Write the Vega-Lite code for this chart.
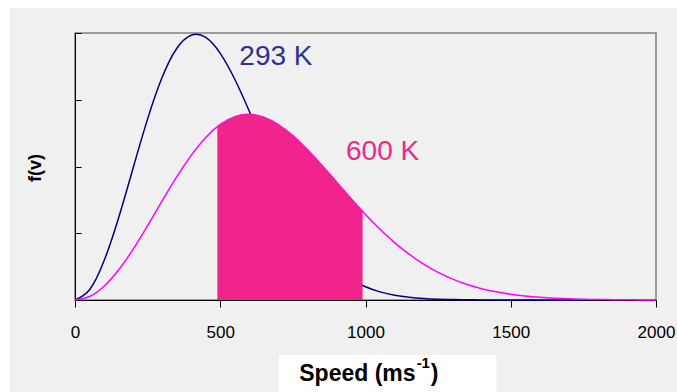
{
  "$schema": "https://vega.github.io/schema/vega-lite/v6.json",
  "width": 581,
  "height": 267,
  "autosize": {"type": "none"},
  "padding": {"left": 75, "top": 33, "right": 21, "bottom": 92},
  "background": "#f0f0f0",
  "config": {
    "view": {"fill": "#f0f0f0", "stroke": "#808080", "strokeWidth": 1.5},
    "font": "Liberation Sans",
    "axis": {"domainColor": "#000000", "domainWidth": 1, "tickColor": "#000000", "tickWidth": 1, "grid": false, "zindex": 1, "labelColor": "#000000", "labelFont": "Liberation Sans"}
  },
  "datasets": {
    "t293": [
      {"v": 0, "f": 0}, {"v": 50, "f": 0.00007662}, {"v": 100, "f": 0.00029356}, {"v": 150, "f": 0.0006148},
      {"v": 200, "f": 0.0009883}, {"v": 250, "f": 0.0013569}, {"v": 300, "f": 0.0016683}, {"v": 350, "f": 0.0018839},
      {"v": 400, "f": 0.0019835}, {"v": 450, "f": 0.0019664}, {"v": 500, "f": 0.0018476}, {"v": 550, "f": 0.0016533},
      {"v": 600, "f": 0.0014139}, {"v": 650, "f": 0.0011586}, {"v": 700, "f": 0.0009117}, {"v": 750, "f": 0.0006899},
      {"v": 800, "f": 0.0005028}, {"v": 850, "f": 0.0003533}, {"v": 900, "f": 0.0002396}, {"v": 950, "f": 0.0001568},
      {"v": 1000, "f": 0.0000992}, {"v": 1050, "f": 0.0000607}, {"v": 1100, "f": 0.0000359}, {"v": 1150, "f": 0.0000206},
      {"v": 1200, "f": 0.0000114}, {"v": 1250, "f": 0.0000061}, {"v": 1300, "f": 0.0000032}, {"v": 1350, "f": 0.0000016},
      {"v": 1400, "f": 0.0000008}, {"v": 1450, "f": 0}, {"v": 1500, "f": 0}, {"v": 1550, "f": 0},
      {"v": 1600, "f": 0}, {"v": 1650, "f": 0}, {"v": 1700, "f": 0}, {"v": 1750, "f": 0}
    ],
    "t600": [
      {"v": 0, "f": 0}, {"v": 50, "f": 0.00002634}, {"v": 100, "f": 0.00010317}, {"v": 150, "f": 0.00022412},
      {"v": 200, "f": 0.00037935}, {"v": 250, "f": 0.0005565}, {"v": 300, "f": 0.0007418}, {"v": 350, "f": 0.0009216},
      {"v": 400, "f": 0.0010835}, {"v": 450, "f": 0.0012172}, {"v": 500, "f": 0.0013151}, {"v": 550, "f": 0.0013732},
      {"v": 600, "f": 0.0013908}, {"v": 650, "f": 0.0013696}, {"v": 700, "f": 0.0013143}, {"v": 750, "f": 0.001231},
      {"v": 800, "f": 0.0011268}, {"v": 850, "f": 0.0010092}, {"v": 900, "f": 0.0008851}, {"v": 950, "f": 0.0007606},
      {"v": 1000, "f": 0.000641}, {"v": 1050, "f": 0.0005301}, {"v": 1100, "f": 0.0004302}, {"v": 1150, "f": 0.0003429},
      {"v": 1200, "f": 0.0002685}, {"v": 1250, "f": 0.0002066}, {"v": 1300, "f": 0.0001562}, {"v": 1350, "f": 0.0001162},
      {"v": 1400, "f": 0.0000849}, {"v": 1450, "f": 0.0000611}, {"v": 1500, "f": 0.0000432}, {"v": 1550, "f": 0.0000301},
      {"v": 1600, "f": 0.0000206}, {"v": 1650, "f": 0.0000139}, {"v": 1700, "f": 0.0000092}, {"v": 1750, "f": 0.000006},
      {"v": 1800, "f": 0.0000039}, {"v": 1850, "f": 0.0000025}, {"v": 1900, "f": 0.0000015}, {"v": 1950, "f": 0.0000009},
      {"v": 2000, "f": 0.0000006}
    ],
    "shade": [
      {"v": 490, "f": 0.0012986}, {"v": 500, "f": 0.0013151}, {"v": 550, "f": 0.0013732}, {"v": 600, "f": 0.0013908},
      {"v": 650, "f": 0.0013696}, {"v": 700, "f": 0.0013143}, {"v": 750, "f": 0.001231}, {"v": 800, "f": 0.0011268},
      {"v": 850, "f": 0.0010092}, {"v": 900, "f": 0.0008851}, {"v": 950, "f": 0.0007606}, {"v": 990, "f": 0.0006644}
    ],
    "one": [{"k": 1}]
  },
  "layer": [
    {
      "data": {"name": "t293"},
      "mark": {"type": "line", "color": "#000080", "strokeWidth": 1.5, "interpolate": "natural"},
      "encoding": {
        "x": {
          "field": "v", "type": "quantitative",
          "scale": {"domain": [0, 2000], "nice": false, "zero": false},
          "axis": {"values": [0, 500, 1000, 1500, 2000], "format": "d", "tickSize": 7, "labelFontSize": 17, "labelPadding": 30, "labelBaseline": "alphabetic", "labelFlush": false, "title": null}
        },
        "y": {
          "field": "f", "type": "quantitative",
          "scale": {"domain": [0, 0.002], "nice": false},
          "axis": {"values": [0, 0.0005, 0.001, 0.0015, 0.002], "labels": false, "tickSize": -6, "title": "f(v)", "titleFont": "Liberation Sans", "titleFontSize": 18, "titleFontWeight": "bold", "titleColor": "#000000", "titleX": -39.5, "titleY": 134.5, "titleAngle": 270, "titleBaseline": "middle", "titleAlign": "center"}
        }
      }
    },
    {
      "data": {"name": "t600"},
      "mark": {"type": "line", "color": "#ff00ff", "strokeWidth": 1.5, "interpolate": "natural"},
      "encoding": {"x": {"field": "v", "type": "quantitative"}, "y": {"field": "f", "type": "quantitative"}}
    },
    {
      "data": {"name": "shade"},
      "mark": {"type": "area", "color": "#f0248a", "opacity": 1, "interpolate": "natural"},
      "encoding": {"x": {"field": "v", "type": "quantitative"}, "y": {"field": "f", "type": "quantitative"}}
    },
    {
      "data": {"name": "one"},
      "mark": {"type": "text", "text": "293 K", "font": "Liberation Sans", "fontSize": 28, "color": "#2e3192", "align": "left", "baseline": "alphabetic"},
      "encoding": {"x": {"datum": 565.6, "type": "quantitative"}, "y": {"datum": 0.00176, "type": "quantitative"}}
    },
    {
      "data": {"name": "one"},
      "mark": {"type": "text", "text": "600 K", "font": "Liberation Sans", "fontSize": 28, "color": "#f0288c", "align": "left", "baseline": "alphabetic"},
      "encoding": {"x": {"datum": 932.9, "type": "quantitative"}, "y": {"datum": 0.0010464, "type": "quantitative"}}
    },
    {
      "data": {"name": "one"},
      "mark": {"type": "rect", "color": "#ffffff"},
      "encoding": {"x": {"datum": 702, "type": "quantitative"}, "x2": {"datum": 1451}, "y": {"datum": -0.000412, "type": "quantitative"}, "y2": {"datum": -0.00076}}
    },
    {
      "data": {"name": "one"},
      "mark": {"type": "rect", "color": "#ffffff"},
      "encoding": {"x": {"datum": -300, "type": "quantitative"}, "x2": {"datum": 2200}, "y": {"datum": 0.0023, "type": "quantitative"}, "y2": {"datum": 0.0021873}}
    },
    {
      "data": {"name": "one"},
      "mark": {"type": "rect", "color": "#ffffff"},
      "encoding": {"x": {"datum": -300, "type": "quantitative"}, "x2": {"datum": -223.7}, "y": {"datum": 0.0023, "type": "quantitative"}, "y2": {"datum": -0.0008}}
    },
    {
      "data": {"name": "one"},
      "mark": {"type": "text", "text": "Speed (ms", "font": "Liberation Sans", "fontSize": 23, "fontWeight": "bold", "color": "#000000", "align": "left", "baseline": "alphabetic"},
      "encoding": {"x": {"datum": 772, "type": "quantitative"}, "y": {"datum": -0.0006067, "type": "quantitative"}}
    },
    {
      "data": {"name": "one"},
      "mark": {"type": "text", "text": "-1", "font": "Liberation Sans", "fontSize": 15, "fontWeight": "bold", "color": "#000000", "align": "left", "baseline": "alphabetic"},
      "encoding": {"x": {"datum": 1176, "type": "quantitative"}, "y": {"datum": -0.0005116, "type": "quantitative"}}
    },
    {
      "data": {"name": "one"},
      "mark": {"type": "text", "text": ")", "font": "Liberation Sans", "fontSize": 23, "fontWeight": "bold", "color": "#000000", "align": "left", "baseline": "alphabetic"},
      "encoding": {"x": {"datum": 1225, "type": "quantitative"}, "y": {"datum": -0.0006067, "type": "quantitative"}}
    }
  ]
}
